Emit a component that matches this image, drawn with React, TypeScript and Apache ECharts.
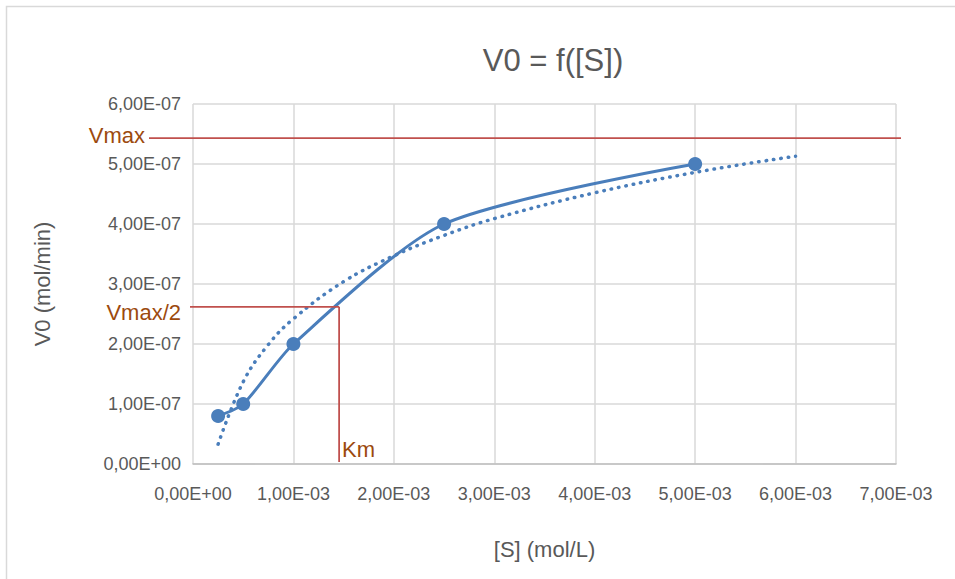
import React, { useEffect, useRef } from "react";
import * as echarts from "echarts";

// Measured points
const substrate = [2.5e-4, 5e-4, 1e-3, 2.5e-3, 5e-3];
const velocity = [8e-8, 1e-7, 2e-7, 4e-7, 5e-7];

// Dotted trend line
const trendS = [2.5e-4, 5e-4, 7.5e-4, 1e-3, 1.5e-3, 2e-3, 2.5e-3, 3e-3, 4e-3, 5e-3, 6e-3];
const trendV = [3.3e-8, 1.37e-7, 1.99e-7, 2.42e-7, 3.04e-7, 3.47e-7, 3.81e-7, 4.09e-7, 4.52e-7, 4.86e-7, 5.13e-7];

// Annotations
const vmaxValue = 5.43e-7;
const halfVmaxValue = 2.62e-7;
const kmValue = 1.455e-3;

const TITLE = "V0 = f([S])";
const X_NAME = "[S] (mol/L)";
const Y_NAME = "V0 (mol/min)";

const fmt = (v: number) => {
  const s = Number(v).toExponential(2);
  const [m, e] = s.split("e");
  const sign = e[0] === "-" ? "-" : "+";
  const digits = e.replace(/[+-]/, "").padStart(2, "0");
  return m.replace(".", ",") + "E" + sign + digits;
};

const BLUE = "#4A7EBB";
const RED = "#C0504D";
const BROWN = "#9C4A0E";
const GREY = "#595959";
const SANS = '"Liberation Sans", Arial, sans-serif';

export default function App() {
  const ref = useRef<HTMLDivElement>(null);
  useEffect(() => {
    if (!ref.current) return;
    const chart = echarts.init(ref.current, undefined, { renderer: "svg" });
    const gridLeft = 193;
    const gridRight = 59;
    const option: any = {
      animation: false,
      backgroundColor: "#ffffff",
      title: {
        text: TITLE,
        left: 548,
        top: 40,
        textAlign: "center",
        textStyle: { fontFamily: SANS, fontSize: 31, fontWeight: "normal", color: GREY },
      },
      grid: { left: gridLeft, right: gridRight, top: 104, bottom: 115 },
      xAxis: {
        type: "value",
        min: 0,
        max: 7e-3,
        interval: 1e-3,
        name: X_NAME,
        nameLocation: "middle",
        nameGap: 74,
        nameTextStyle: { fontFamily: SANS, fontSize: 22, color: GREY },
        axisLine: { show: true, lineStyle: { color: "#BFBFBF", width: 1.5 } },
        axisTick: { show: false },
        axisLabel: { formatter: fmt, fontFamily: SANS, fontSize: 18, color: GREY, margin: 21 },
        splitLine: { show: true, lineStyle: { color: "#D9D9D9", width: 1.5 } },
      },
      yAxis: {
        type: "value",
        min: 0,
        max: 6e-7,
        interval: 1e-7,
        name: Y_NAME,
        nameLocation: "middle",
        nameGap: 140,
        nameRotate: 90,
        nameTextStyle: { fontFamily: SANS, fontSize: 22, color: GREY },
        axisLine: { show: false },
        axisTick: { show: false },
        axisLabel: { formatter: fmt, fontFamily: SANS, fontSize: 18, color: GREY, margin: 12 },
        splitLine: { show: true, lineStyle: { color: "#D9D9D9", width: 1.5 } },
      },
      series: [
        {
          type: "line",
          data: trendS.map((s, i) => [s, trendV[i]]),
          smooth: 0.4,
          showSymbol: false,
          lineStyle: { color: BLUE, width: 3.5, type: [0.5, 7], cap: "round" },
          z: 2,
        },
        {
          type: "line",
          data: substrate.map((s, i) => [s, velocity[i]]),
          smooth: 0.25,
          symbol: "circle",
          symbolSize: 14,
          itemStyle: { color: BLUE },
          lineStyle: { color: BLUE, width: 3 },
          z: 3,
        },
      ],
    };
    chart.setOption(option);

    const yV = chart.convertToPixel({ gridIndex: 0 }, [0, vmaxValue])[1];
    const yH = chart.convertToPixel({ gridIndex: 0 }, [0, halfVmaxValue])[1];
    const [xK, y0] = chart.convertToPixel({ gridIndex: 0 }, [kmValue, 0]);
    const xRight = chart.convertToPixel({ gridIndex: 0 }, [7e-3, 0])[0];

    const redLine = (x1: number, y1: number, x2: number, y2: number) => ({
      type: "line",
      shape: { x1, y1, x2, y2 },
      style: { stroke: RED, lineWidth: 1.8 },
      z: 10,
    });
    const label = (text: string, x: number, y: number, align: string) => ({
      type: "text",
      x,
      y,
      style: {
        text,
        fill: BROWN,
        font: `22px ${SANS}`,
        align,
        verticalAlign: "middle",
      },
      z: 10,
    });

    chart.setOption({
      graphic: [
        {
          type: "rect",
          shape: { x: 6.5, y: 6.5, width: 1000, height: 700 },
          style: { fill: "none", stroke: "#D9D9D9", lineWidth: 1.5 },
          z: -1,
        },
        redLine(gridLeft - 44, yV, xRight + 5, yV),
        redLine(gridLeft - 3, yH, xK, yH),
        redLine(xK, yH, xK, y0 - 2),
        label("Vmax", gridLeft - 48, yV - 3, "right"),
        label("Vmax/2", gridLeft - 12, yH + 6, "right"),
        label("Km", xK + 3, y0 - 15, "left"),
      ],
    });

    return () => chart.dispose();
  }, []);
  return (
    <div
      ref={ref}
      style={{ position: "fixed", left: 0, top: 0, width: 955, height: 579 }}
    />
  );
}
